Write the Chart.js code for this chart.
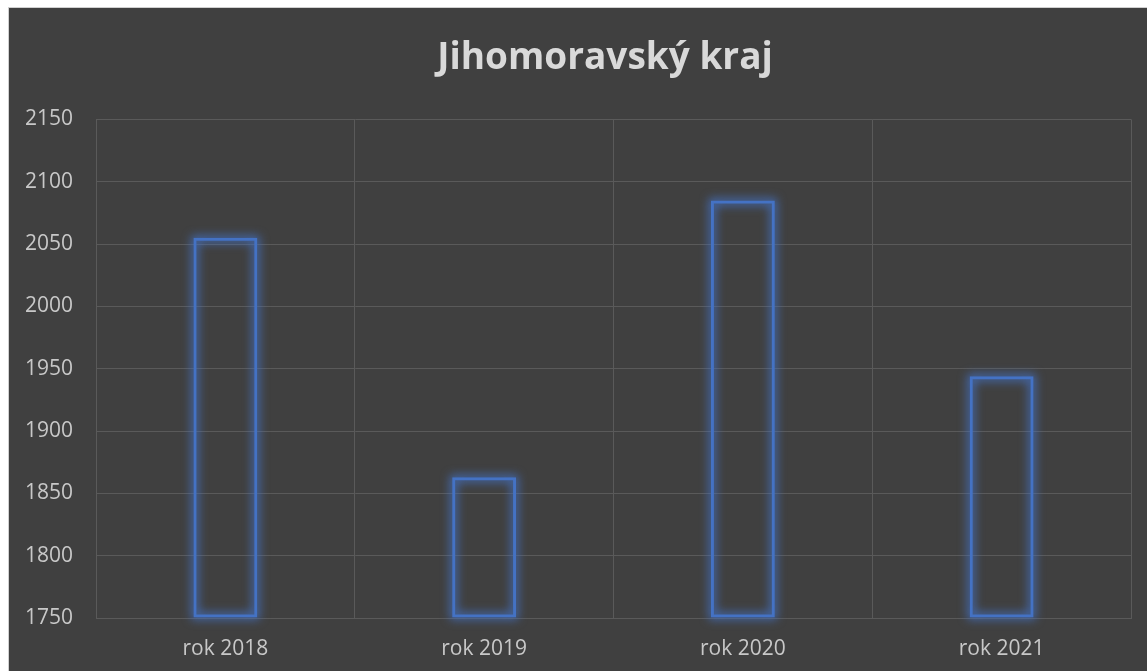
<!DOCTYPE html>
<html>
<head>
<meta charset="utf-8">
<script src="https://cdn.jsdelivr.net/npm/chart.js@4"></script>
<style>
  body { margin: 0; background: #ffffff; }
  #wrap { position: absolute; left: 8px; top: 7px; width: 1138px; height: 663px;
          border-left: 1px solid #d0d0d0; border-top: 1px solid #d0d0d0; background: #404040; }
</style>
</head>
<body>
<div id="wrap"><canvas id="chart1"></canvas></div>
<script>
// Jihomoravský kraj
const years = ['rok 2018', 'rok 2019', 'rok 2020', 'rok 2021'];
const values = [2055, 1863, 2085, 1944];
const yMin = 1750, yMax = 2150, yStep = 50;

// soft glow under the bar outlines + let y labels use the left margin
const glow = {
    id: 'glow',
    afterLayout(chart) {
        chart.scales.y.left = 0;
    },
    beforeDatasetsDraw(chart) {
        const ctx = chart.ctx;
        ctx.save();
        ctx.filter = 'blur(5px)';
        ctx.strokeStyle = 'rgba(68,114,196,0.85)';
        ctx.lineWidth = 7;
        chart.getDatasetMeta(0).data.forEach(b => {
            const base = Math.min(b.base, chart.chartArea.bottom);
            ctx.strokeRect(b.x - b.width / 2 + 1.5, b.y + 1.5, b.width - 3, base - b.y - 3);
        });
        ctx.restore();
    }
};

new Chart(document.getElementById('chart1'), {
    type: 'bar',
    data: {
        labels: years,
        datasets: [{
            label: 'Jihomoravský kraj',
            data: values,
            base: yMin,
            borderColor: '#4472c4',
            backgroundColor: 'rgba(0,0,0,0)',
            borderWidth: 3,
            borderSkipped: false,
            barPercentage: 0.247,
            categoryPercentage: 1
        }]
    },
    options: {
        responsive: true,
        maintainAspectRatio: false,
        animation: false,
        layout: { padding: { left: 70, right: 16, top: 0, bottom: 0 } },
        plugins: {
            legend: { display: false },
            tooltip: { enabled: false },
            title: {
                display: true,
                text: 'Jihomoravský kraj',
                color: '#d9d9d9',
                font: { family: 'Open Sans', size: 37, weight: 'bold' },
                padding: { top: 28, bottom: 39 }
            }
        },
        scales: {
            x: {
                grid: { color: '#5a5a5a', lineWidth: 1, drawTicks: false },
                border: { color: '#5a5a5a' },
                ticks: { color: '#c8c8c8', font: { family: 'Open Sans', size: 21 }, padding: 18 },
                afterFit(s) { s.height = 53; }
            },
            y: {
                min: yMin,
                max: yMax,
                grid: { color: '#5a5a5a', lineWidth: 1, drawTicks: false },
                border: { color: '#5a5a5a' },
                ticks: {
                    stepSize: yStep,
                    color: '#c8c8c8',
                    font: { family: 'Open Sans', size: 21 },
                    padding: 23,
                    callback: v => String(v)
                },
                afterFit(s) { s.width = 17; }
            }
        }
    },
    plugins: [glow]
});
</script>
</body>
</html>
